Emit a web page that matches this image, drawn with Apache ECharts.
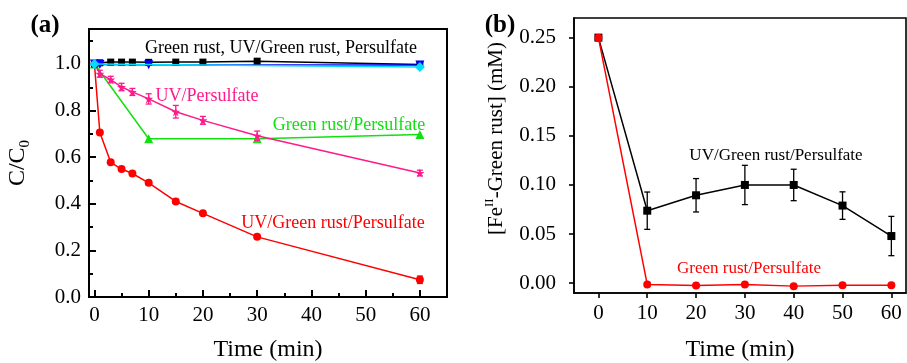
<!DOCTYPE html>
<html>
<head>
<meta charset="utf-8">
<script src="https://cdn.jsdelivr.net/npm/echarts@6/dist/echarts.min.js"></script>
<style>html,body{margin:0;padding:0;background:#fff}#c{width:907px;height:363px}</style>
</head>
<body>
<div id="c"></div>
<script>
// ---------- Panel (a) data: C/C0 vs time ----------
const aTicksX = [0, 10, 20, 30, 40, 50, 60];
const aMinorX = [5, 15, 25, 35, 45, 55];
const aTicksY = [0, 0.2, 0.4, 0.6, 0.8, 1.0];
const aMinorY = [0.1, 0.3, 0.5, 0.7, 0.9, 1.1];

const gr_t   = [0, 1, 3, 5, 7, 10, 15, 20, 30, 60];
const gr_v   = [1.0, 1.005, 1.008, 1.008, 1.008, 1.007, 1.008, 1.008, 1.012, 0.998];
const uvgr_t = [0, 1, 10, 60];
const uvgr_v = [1.0, 0.998, 0.997, 0.995];
const ps_t   = [0, 60];
const ps_v   = [1.0, 0.987];
const uvps_t = [0, 1, 3, 5, 7, 10, 15, 20, 30, 60];
const uvps_v = [1.0, 0.958, 0.933, 0.901, 0.88, 0.85, 0.795, 0.758, 0.692, 0.532];
const uvps_e = [0, 0.015, 0.014, 0.016, 0.015, 0.022, 0.027, 0.017, 0.02, 0.012];
const grps_t = [0, 10, 30, 60];
const grps_v = [1.0, 0.679, 0.679, 0.697];
const all_t  = [0, 1, 3, 5, 7, 10, 15, 20, 30, 60];
const all_v  = [1.0, 0.706, 0.578, 0.549, 0.53, 0.49, 0.41, 0.359, 0.258, 0.074];
const all_e  = [0, 0, 0, 0, 0, 0, 0.008, 0, 0, 0.016];

// ---------- Panel (b) data: [FeII-Green rust] vs time ----------
const bTicksX = [0, 10, 20, 30, 40, 50, 60];
const bTicksY = [0, 0.05, 0.10, 0.15, 0.20, 0.25];
const b_t     = [0, 10, 20, 30, 40, 50, 60];
const bUv_v   = [0.25, 0.0738, 0.0895, 0.10, 0.10, 0.079, 0.048];
const bUv_e   = [0, 0.019, 0.017, 0.02, 0.016, 0.014, 0.02];
const bGr_v   = [0.25, -0.0013, -0.0023, -0.0013, -0.003, -0.002, -0.002];

const FONT = "'Liberation Serif','Times New Roman',serif";
const zip = (t, v) => t.map((x, i) => [x, v[i]]);
const zip3 = (t, v, e) => t.map((x, i) => [x, v[i], e[i]]);
const STAR = 'path://M50,0 L61,35 L98,35 L68,57 L79,91 L50,70 L21,91 L32,57 L2,35 L39,35 Z';

function errBar(color, xi, yi, data) {
  return {
    type: 'custom', xAxisIndex: xi, yAxisIndex: yi, z: 3,
    data: data.filter(d => d[2] > 0),
    renderItem: function (params, api) {
      const x = api.value(0), y = api.value(1), e = api.value(2);
      const top = api.coord([x, y + e]);
      const bot = api.coord([x, y - e]);
      const st = { stroke: color, lineWidth: 1.3 };
      return {
        type: 'group', children: [
          { type: 'line', shape: { x1: top[0], y1: top[1], x2: bot[0], y2: bot[1] }, style: st },
          { type: 'line', shape: { x1: top[0] - 3, y1: top[1], x2: top[0] + 3, y2: top[1] }, style: st },
          { type: 'line', shape: { x1: bot[0] - 3, y1: bot[1], x2: bot[0] + 3, y2: bot[1] }, style: st }
        ]
      };
    }
  };
}

function lineSeries(name, data, color, symbol, size, xi, yi, z) {
  return {
    name: name, type: 'line', xAxisIndex: xi, yAxisIndex: yi, data: data,
    symbol: symbol, symbolSize: size, showSymbol: true, z: z || 2,
    lineStyle: { color: color, width: 1.5 },
    itemStyle: { color: color }, animation: false
  };
}

const axisTxt = { color: '#000', fontFamily: FONT, fontSize: 21 };
const nameTxt = { color: '#000', fontFamily: FONT, fontSize: 24 };

const chart = echarts.init(document.getElementById('c'), null, { renderer: 'canvas' });
chart.setOption({
  animation: false,
  backgroundColor: '#fff',
  grid: [
    { left: 89, top: 29, right: 460, bottom: 66, containLabel: false, outerBoundsMode: 'none',
      show: true, borderColor: '#000', borderWidth: 2, backgroundColor: 'transparent' },
    { left: 574, top: 18, right: 1, bottom: 70, containLabel: false, outerBoundsMode: 'none',
      show: true, borderColor: '#000', borderWidth: 1.6, backgroundColor: 'transparent' }
  ],
  xAxis: [
    { type: 'value', gridIndex: 0, min: -1, max: 65, position: 'bottom',
      name: 'Time (min)', nameLocation: 'middle', nameGap: 41, nameTextStyle: nameTxt,
      axisLine: { onZero: false, lineStyle: { color: '#000', width: 2 } },
      axisTick: { inside: true, length: 7, lineStyle: { color: '#000', width: 2 }, customValues: aTicksX },
      axisLabel: Object.assign({ margin: 8, customValues: aTicksX }, axisTxt),
      splitLine: { show: false } },
    { type: 'value', gridIndex: 0, min: -1, max: 65, position: 'bottom',
      axisLine: { show: false, onZero: false },
      axisTick: { inside: true, length: 4, lineStyle: { color: '#000', width: 2 }, customValues: aMinorX },
      axisLabel: { show: false }, splitLine: { show: false } },
    { type: 'value', gridIndex: 1, min: -5, max: 63, position: 'bottom',
      name: 'Time (min)', nameLocation: 'middle', nameGap: 45, nameTextStyle: nameTxt,
      axisLine: { onZero: false, lineStyle: { color: '#000', width: 1.6 } },
      axisTick: { inside: false, length: 5, lineStyle: { color: '#000', width: 1.6 }, customValues: bTicksX },
      axisLabel: Object.assign({ margin: 10, customValues: bTicksX }, axisTxt),
      splitLine: { show: false } }
  ],
  yAxis: [
    { type: 'value', gridIndex: 0, min: 0, max: 1.15, position: 'left',
      name: '{m|C/C}{s|0}', nameLocation: 'middle', nameGap: 56,
      nameTextStyle: { color: '#000', fontFamily: FONT, fontSize: 24,
        rich: { m: { fontFamily: FONT, fontSize: 24, lineHeight: 30, color: '#000' },
                s: { fontFamily: FONT, fontSize: 15, lineHeight: 14, verticalAlign: 'bottom', color: '#000' } } },
      axisLine: { onZero: false, lineStyle: { color: '#000', width: 2 } },
      axisTick: { inside: true, length: 7, lineStyle: { color: '#000', width: 2 }, customValues: aTicksY },
      axisLabel: Object.assign({ margin: 8, customValues: aTicksY, formatter: v => v.toFixed(1) }, axisTxt),
      splitLine: { show: false } },
    { type: 'value', gridIndex: 0, min: 0, max: 1.15, position: 'left',
      axisLine: { show: false, onZero: false },
      axisTick: { inside: true, length: 4, lineStyle: { color: '#000', width: 2 }, customValues: aMinorY },
      axisLabel: { show: false }, splitLine: { show: false } },
    { type: 'value', gridIndex: 1, min: -0.01, max: 0.27, position: 'left',
      name: '{m|[Fe}{s|II}{m|-Green rust] (mM)}', nameLocation: 'middle', nameGap: 64,
      nameTextStyle: { color: '#000', fontFamily: FONT, fontSize: 21, padding: [0, 0, 0, 34],
        rich: { m: { fontFamily: FONT, fontSize: 21, lineHeight: 27, color: '#000' },
                s: { fontFamily: FONT, fontSize: 13, lineHeight: 12, verticalAlign: 'top', color: '#000' } } },
      axisLine: { onZero: false, lineStyle: { color: '#000', width: 1.6 } },
      axisTick: { inside: false, length: 5, lineStyle: { color: '#000', width: 1.6 }, customValues: bTicksY },
      axisLabel: Object.assign({ margin: 18, customValues: bTicksY, formatter: v => v.toFixed(2) }, axisTxt),
      splitLine: { show: false } }
  ],
  series: [
    lineSeries('UV/Green rust/Persulfate', zip(all_t, all_v), '#ff0000', 'circle', 8, 0, 0, 2),
    errBar('#ff0000', 0, 0, zip3(all_t, all_v, all_e)),
    lineSeries('Green rust/Persulfate', zip(grps_t, grps_v), '#11e011', 'triangle', 9, 0, 0, 2),
    lineSeries('UV/Persulfate', zip(uvps_t, uvps_v), '#ff1a8c', STAR, 9, 0, 0, 2),
    errBar('#ff1a8c', 0, 0, zip3(uvps_t, uvps_v, uvps_e)),
    lineSeries('Green rust', zip(gr_t, gr_v), '#000000', 'rect', 7, 0, 0, 4),
    lineSeries('UV/Green rust', zip(uvgr_t, uvgr_v), '#0000ff', 'path://M0,0 L100,0 L50,90 Z', 9, 0, 0, 4),
    lineSeries('Persulfate', zip(ps_t, ps_v), '#00ddff', 'diamond', 10, 0, 0, 5),
    lineSeries('b UV/Green rust/Persulfate', zip(b_t, bUv_v), '#000000', 'rect', 8, 2, 2, 2),
    errBar('#000000', 2, 2, zip3(b_t, bUv_v, bUv_e)),
    lineSeries('b Green rust/Persulfate', zip(b_t, bGr_v), '#ff0000', 'circle', 8, 2, 2, 4)
  ],
  graphic: [
    { type: 'text', x: 45, y: 26, style: { text: '(a)', font: "bold 25px " + FONT, fill: '#000', align: 'center', verticalAlign: 'middle' } },
    { type: 'text', x: 500, y: 26, style: { text: '(b)', font: "bold 25px " + FONT, fill: '#000', align: 'center', verticalAlign: 'middle' } },
    { type: 'text', x: 281, y: 48, style: { text: 'Green rust, UV/Green rust, Persulfate', font: "18px " + FONT, fill: '#000', align: 'center', verticalAlign: 'middle' } },
    { type: 'text', x: 207, y: 96, style: { text: 'UV/Persulfate', font: "18px " + FONT, fill: '#ff1a8c', align: 'center', verticalAlign: 'middle' } },
    { type: 'text', x: 349, y: 125, style: { text: 'Green rust/Persulfate', font: "18px " + FONT, fill: '#11e011', align: 'center', verticalAlign: 'middle' } },
    { type: 'text', x: 333, y: 223, style: { text: 'UV/Green rust/Persulfate', font: "18px " + FONT, fill: '#ff0000', align: 'center', verticalAlign: 'middle' } },
    { type: 'text', x: 776, y: 156, style: { text: 'UV/Green rust/Persulfate', font: "17px " + FONT, fill: '#000', align: 'center', verticalAlign: 'middle' } },
    { type: 'text', x: 749, y: 269, style: { text: 'Green rust/Persulfate', font: "17px " + FONT, fill: '#ff0000', align: 'center', verticalAlign: 'middle' } }
  ]
});
</script>
</body>
</html>
